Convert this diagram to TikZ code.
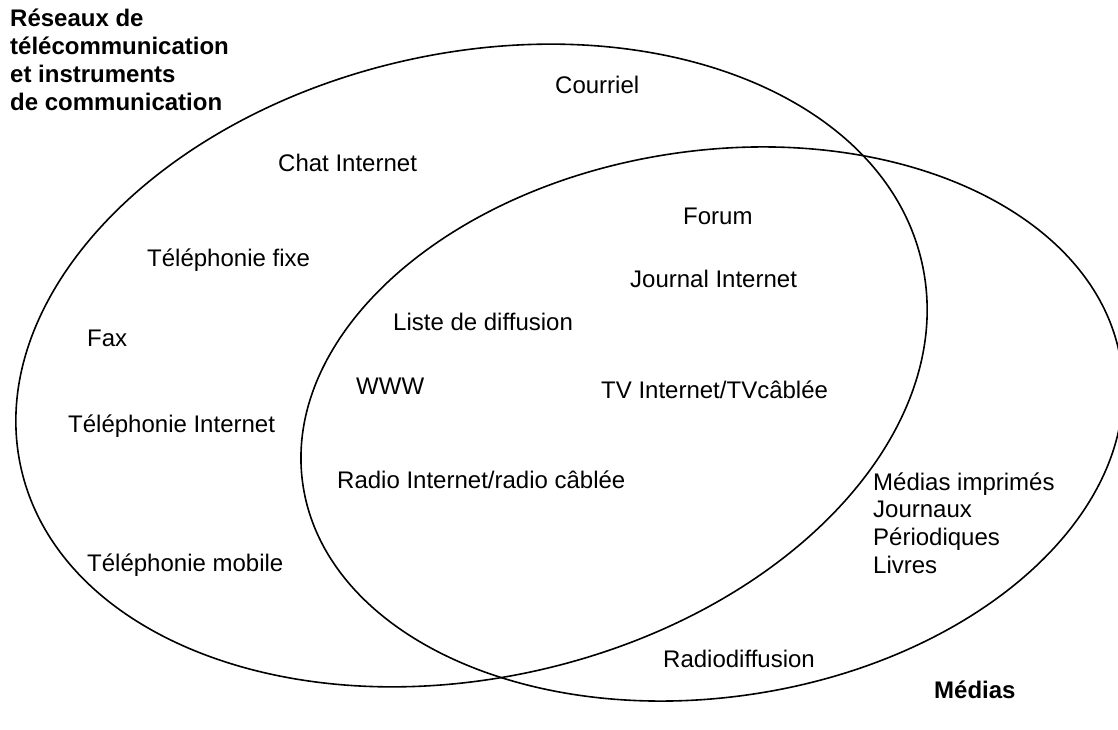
\documentclass[tikz,border=0pt]{standalone}
\usepackage{fontspec}
\setmainfont{Liberation Sans}
\begin{document}
\begin{tikzpicture}[x=1pt,y=1pt,
  lbl/.style={anchor=base west, inner sep=0pt, font=\fontsize{24}{27.7}\selectfont},
  ttl/.style={lbl, font=\fontsize{24}{27.7}\selectfont\bfseries},
  setline/.style={draw=black, line width=1.6pt}]
\useasboundingbox (0,0) rectangle (1118,729);
\clip (0,0) rectangle (1118,729);
% sets
\draw[setline, rotate around={13:(471.5,363.5)}] (471.5,363.5) ellipse [x radius=462, y radius=312];
\draw[setline, rotate around={8.5:(712,305)}] (712,305) ellipse [x radius=413.6, y radius=273.2];
% titles
\node[ttl] (reseaux) at (10,702) {\begin{tabular}[t]{@{}l@{}}Réseaux de\\télécommunication\\et instruments\\de communication\end{tabular}};
\node[ttl] (medias) at (934,31) {Médias};
% left set only
\node[lbl] (courriel) at (555,635) {Courriel};
\node[lbl] (chat) at (278,557) {Chat Internet};
\node[lbl] (fixe) at (147,462) {Téléphonie fixe};
\node[lbl] (fax) at (87,382) {Fax};
\node[lbl] (telint) at (68,297) {Téléphonie Internet};
\node[lbl] (mobile) at (87,158) {Téléphonie mobile};
% intersection
\node[lbl] (liste) at (393,398) {Liste de diffusion};
\node[lbl] (www) at (356,335) {WWW};
\node[lbl] (radioint) at (337,241) {Radio Internet/radio câblée};
\node[lbl] (forum) at (683,504) {Forum};
\node[lbl] (journal) at (630,441) {Journal Internet};
\node[lbl] (tvint) at (601,331) {TV Internet/TVcâblée};
% right set only
\node[lbl] (imprimes) at (873,239) {\begin{tabular}[t]{@{}l@{}}Médias imprimés\\Journaux\\Périodiques\\Livres\end{tabular}};
\node[lbl] (radiodiff) at (663,62) {Radiodiffusion};
\end{tikzpicture}
\end{document}
